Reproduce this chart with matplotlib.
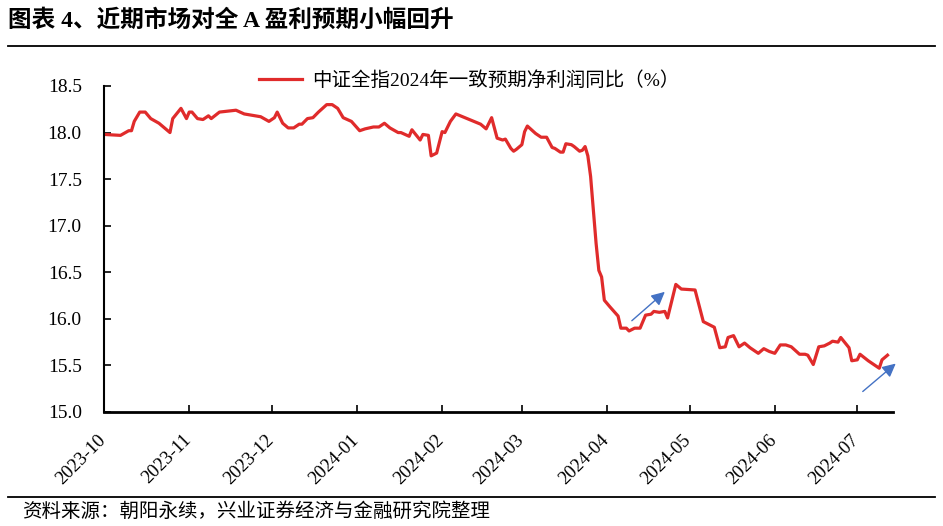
import matplotlib
matplotlib.use("Agg")
import matplotlib.pyplot as plt
import matplotlib.dates as mdates
import matplotlib.transforms as mtransforms
import pandas as pd

# 中证全指2024年一致预期净利润同比（%）
dates = [
    '2023-10-01', '2023-10-07', '2023-10-10', '2023-10-11', '2023-10-12', '2023-10-14',
    '2023-10-16', '2023-10-18', '2023-10-21', '2023-10-25', '2023-10-26', '2023-10-29',
    '2023-10-31', '2023-11-01', '2023-11-02', '2023-11-04', '2023-11-06', '2023-11-08',
    '2023-11-09', '2023-11-12', '2023-11-15', '2023-11-18', '2023-11-21', '2023-11-25',
    '2023-11-27', '2023-11-30', '2023-12-02', '2023-12-03', '2023-12-05', '2023-12-07',
    '2023-12-09', '2023-12-11', '2023-12-12', '2023-12-14', '2023-12-16', '2023-12-18',
    '2023-12-21', '2023-12-23', '2023-12-25', '2023-12-27', '2023-12-30', '2024-01-02',
    '2024-01-04', '2024-01-07', '2024-01-09', '2024-01-11', '2024-01-13', '2024-01-16',
    '2024-01-17', '2024-01-20', '2024-01-21', '2024-01-24', '2024-01-25', '2024-01-27',
    '2024-01-28', '2024-01-30', '2024-02-01', '2024-02-02', '2024-02-04', '2024-02-06',
    '2024-02-15', '2024-02-17', '2024-02-19', '2024-02-21', '2024-02-23', '2024-02-24',
    '2024-02-26', '2024-02-27', '2024-02-28', '2024-03-01', '2024-03-02', '2024-03-03',
    '2024-03-06', '2024-03-08', '2024-03-10', '2024-03-12', '2024-03-13', '2024-03-15',
    '2024-03-16', '2024-03-17', '2024-03-19', '2024-03-20', '2024-03-22', '2024-03-23',
    '2024-03-24', '2024-03-25', '2024-03-26', '2024-03-27', '2024-03-28', '2024-03-29',
    '2024-03-30', '2024-03-31', '2024-04-02', '2024-04-05', '2024-04-06', '2024-04-08',
    '2024-04-09', '2024-04-11', '2024-04-13', '2024-04-15', '2024-04-17', '2024-04-18',
    '2024-04-20', '2024-04-22', '2024-04-23', '2024-04-26', '2024-04-28', '2024-05-03',
    '2024-05-06', '2024-05-10', '2024-05-12', '2024-05-14', '2024-05-15', '2024-05-17',
    '2024-05-19', '2024-05-21', '2024-05-23', '2024-05-26', '2024-05-28', '2024-05-30',
    '2024-06-01', '2024-06-03', '2024-06-05', '2024-06-07', '2024-06-10', '2024-06-12',
    '2024-06-13', '2024-06-15', '2024-06-17', '2024-06-19', '2024-06-21', '2024-06-22',
    '2024-06-24', '2024-06-25', '2024-06-28', '2024-06-29', '2024-07-01', '2024-07-02',
    '2024-07-05', '2024-07-07', '2024-07-09', '2024-07-10', '2024-07-12',
]
values = [
    17.98, 17.97, 18.02, 18.02, 18.12, 18.22,
    18.22, 18.15, 18.10, 18.00, 18.15, 18.26,
    18.15, 18.22, 18.22, 18.15, 18.14, 18.18,
    18.15, 18.22, 18.23, 18.24, 18.20, 18.18,
    18.17, 18.12, 18.16, 18.22, 18.10, 18.05,
    18.05, 18.09, 18.09, 18.15, 18.16, 18.22,
    18.30, 18.30, 18.26, 18.16, 18.12, 18.02,
    18.04, 18.06, 18.06, 18.10, 18.05, 18.00,
    18.00, 17.96, 18.03, 17.92, 17.98, 17.97,
    17.75, 17.78, 18.01, 18.00, 18.12, 18.20,
    18.09, 18.04, 18.16, 17.94, 17.92, 17.93,
    17.83, 17.80, 17.82, 17.87, 18.01, 18.07,
    17.99, 17.95, 17.95, 17.84, 17.83, 17.79,
    17.79, 17.88, 17.87, 17.85, 17.80, 17.81,
    17.85, 17.75, 17.53, 17.17, 16.81, 16.52,
    16.45, 16.20, 16.13, 16.03, 15.90, 15.90,
    15.87, 15.90, 15.90, 16.04, 16.05, 16.08,
    16.07, 16.08, 16.01, 16.37, 16.32, 16.31,
    15.97, 15.91, 15.69, 15.70, 15.80, 15.82,
    15.70, 15.74, 15.69, 15.63, 15.68, 15.65,
    15.63, 15.72, 15.72, 15.70, 15.62, 15.62,
    15.61, 15.51, 15.70, 15.71, 15.74, 15.76,
    15.75, 15.80, 15.69, 15.55, 15.56, 15.62,
    15.55, 15.51, 15.47, 15.56, 15.61,
]
series_label = '中证全指2024年一致预期净利润同比（%）'
title = '图表 4、近期市场对全 A 盈利预期小幅回升'
source = '资料来源：朝阳永续，兴业证券经济与金融研究院整理'
y_ticks = [15.0, 15.5, 16.0, 16.5, 17.0, 17.5, 18.0, 18.5]

# 箭头（起点、终点）
arrows = [
    (('2024-04-10', 15.98), ('2024-04-22', 16.29)),
    (('2024-07-03', 15.22), ('2024-07-15', 15.52)),
]

serif = ['Liberation Serif', 'Noto Sans CJK SC']
plt.rcParams['font.family'] = serif

x = pd.to_datetime(dates)

fig = plt.figure(figsize=(9.43, 5.26), dpi=100)
ax = fig.add_axes([104 / 943, 1 - 412 / 526, (893 - 104) / 943, (412 - 86) / 526])

ax.plot(x, values, color='#E02B2B', lw=2.3, label=series_label)

ax.set_ylim(15.0, 18.5)
ax.set_yticks(y_ticks)
ax.set_yticklabels(['%.1f' % v for v in y_ticks])
ax.set_xlim(pd.Timestamp('2023-10-01'), pd.Timestamp('2024-07-14'))
ax.xaxis.set_major_locator(mdates.MonthLocator())
ax.xaxis.set_major_formatter(mdates.DateFormatter('%Y-%m'))

for s in ['top', 'right']:
    ax.spines[s].set_visible(False)
ax.spines['left'].set_linewidth(1.5)
ax.spines['bottom'].set_linewidth(2.0)
ax.tick_params(axis='both', direction='in', length=5, width=1.2, labelsize=14)
ax.tick_params(axis='x', labelsize=13.5, pad=14)
ax.tick_params(axis='y', pad=16)
shift = mtransforms.ScaledTranslation(5 / 100, 0, fig.dpi_scale_trans)
for lab in ax.get_xticklabels():
    lab.set_rotation(45)
    lab.set_ha('right')
    lab.set_transform(lab.get_transform() + shift)

for (d0, v0), (d1, v1) in arrows:
    ax.annotate('', xy=(pd.Timestamp(d1), v1), xytext=(pd.Timestamp(d0), v0),
                annotation_clip=False,
                arrowprops=dict(arrowstyle='-|>', color='#4472C4', lw=1.0,
                                mutation_scale=20, shrinkA=0, shrinkB=0))

leg = ax.legend(loc='upper center', bbox_to_anchor=(0.463, 1.1), frameon=False,
                fontsize=14, handlelength=2.2, handletextpad=0.5)

fig.text(8 / 943, 1 - 21 / 526, title, fontsize=17, fontweight='bold', va='center', ha='left')
fig.add_artist(plt.Line2D([8 / 943, 935 / 943], [1 - 46 / 526] * 2, color='black', lw=1.3))
fig.add_artist(plt.Line2D([8 / 943, 935 / 943], [1 - 497 / 526] * 2, color='black', lw=1.3))
fig.text(22 / 943, 1 - 512 / 526, source, fontsize=14, va='center', ha='left')

fig.savefig('out.png', dpi=100)
